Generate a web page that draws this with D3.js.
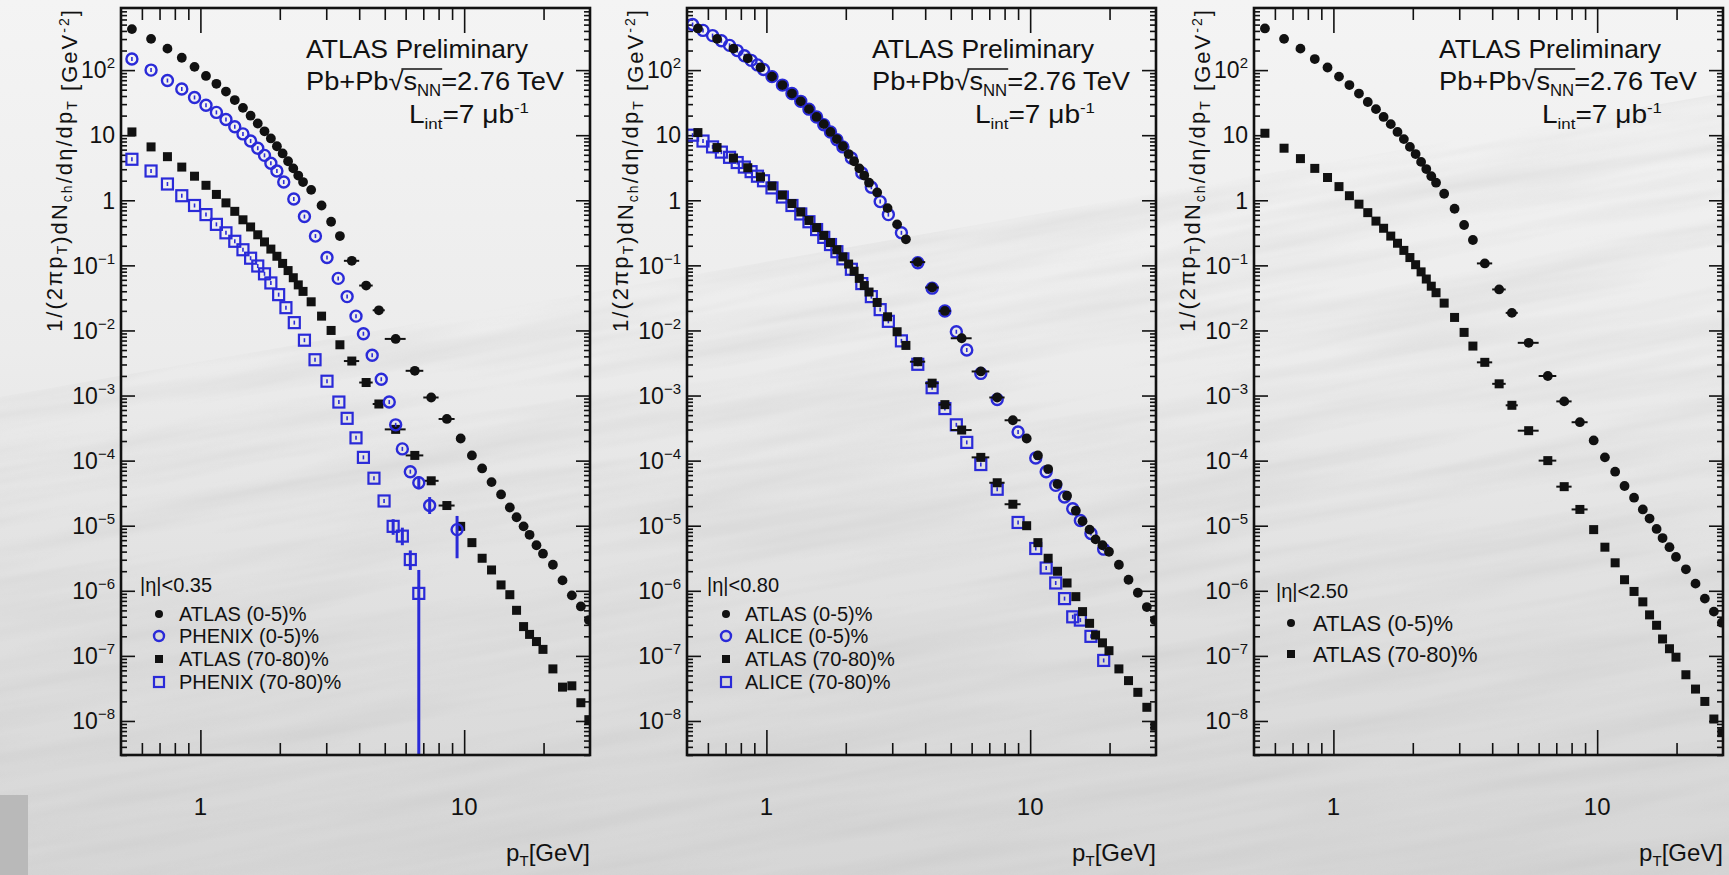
<!DOCTYPE html>
<html>
<head>
<meta charset="utf-8">
<script src="https://cdn.jsdelivr.net/npm/d3@7"></script>
<style>
  body { margin: 0; background: #dcdcdc; }
  svg { display: block; font-family: "Liberation Sans", Arial, Helvetica, sans-serif; }
</style>
</head>
<body>
<svg id="chart"></svg>
<script>
// pT bin centres (GeV), ATLAS
const ptAtlas = [0.55,0.65,0.75,0.85,0.95,1.05,1.15,1.25,1.35,1.45,1.55,1.65,1.75,1.85,1.95,2.05,2.15,2.25,2.35,2.45,
  2.63,2.88,3.13,3.38,3.75,4.25,4.75,5.5,6.5,7.5,8.6,
  9.7,10.7,11.7,12.7,13.8,14.9,15.8,16.8,17.7,18.8,19.9,21.7,23.6,25.6,27.7,29.7];
// wide ATLAS bins that show a horizontal bar [pT, lo, hi]
const atlasWideBins = [[3.75,3.5,4.0],[4.25,4.0,4.5],[4.75,4.5,5.0],[5.5,5.0,6.0],[6.5,6.0,7.0],[7.5,7.0,8.0],[8.6,8.0,9.2]];

const p1Atlas05 = [2.63,2.48,2.33,2.19,2.05,1.91,1.79,1.67,1.54,1.42,1.30,1.18,1.06,0.95,0.83,0.72,0.60,0.49,0.38,0.28,
  0.16,-0.08,-0.33,-0.55,-0.93,-1.31,-1.69,-2.13,-2.62,-3.03,-3.36,
  -3.66,-3.92,-4.12,-4.33,-4.52,-4.72,-4.87,-5.01,-5.14,-5.30,-5.43,-5.60,-5.84,-6.07,-6.24,-6.45];
const p1Atlas7080 = [1.05,0.82,0.67,0.51,0.37,0.23,0.09,-0.04,-0.17,-0.30,-0.41,-0.53,-0.64,-0.75,-0.86,-0.97,-1.08,-1.19,-1.30,-1.40,
  -1.56,-1.78,-2.00,-2.22,-2.47,-2.80,-3.13,-3.52,-3.92,-4.31,-4.69,
  -5.01,-5.26,-5.50,-5.68,-5.91,-6.06,-6.30,-6.55,-6.67,-6.78,-6.90,-7.20,-7.48,-7.46,-7.72,-7.98];
const p2Atlas05 = [2.64,2.48,2.33,2.18,2.04,1.90,1.77,1.64,1.52,1.40,1.28,1.17,1.05,0.94,0.83,0.71,0.60,0.49,0.38,0.27,
  0.12,-0.12,-0.37,-0.60,-0.95,-1.34,-1.70,-2.12,-2.63,-3.03,-3.38,
  -3.66,-3.92,-4.13,-4.36,-4.54,-4.77,-4.93,-5.06,-5.21,-5.30,-5.40,-5.60,-5.83,-6.03,-6.25,-6.45];
const p2Atlas7080 = [1.04,0.81,0.65,0.50,0.36,0.22,0.08,-0.05,-0.18,-0.31,-0.42,-0.54,-0.65,-0.76,-0.87,-0.98,-1.09,-1.20,-1.31,-1.41,
  -1.57,-1.79,-2.02,-2.23,-2.48,-2.81,-3.14,-3.53,-3.95,-4.34,-4.67,
  -5.00,-5.26,-5.50,-5.70,-5.88,-6.09,-6.32,-6.50,-6.68,-6.80,-6.92,-7.20,-7.38,-7.56,-7.79,-8.08];
const p3Atlas05 = [2.64,2.48,2.33,2.17,2.04,1.90,1.77,1.64,1.51,1.40,1.28,1.17,1.05,0.94,0.82,0.71,0.59,0.48,0.37,0.27,
  0.10,-0.13,-0.38,-0.61,-0.97,-1.37,-1.73,-2.19,-2.70,-3.09,-3.41,
  -3.69,-3.95,-4.17,-4.39,-4.57,-4.75,-4.89,-5.05,-5.19,-5.33,-5.48,-5.67,-5.89,-6.12,-6.32,-6.49];
const p3Atlas7080 = [1.03,0.80,0.64,0.49,0.35,0.21,0.07,-0.06,-0.19,-0.32,-0.43,-0.55,-0.66,-0.77,-0.88,-0.99,-1.10,-1.21,-1.32,-1.42,
  -1.58,-1.80,-2.03,-2.24,-2.49,-2.82,-3.15,-3.54,-4.00,-4.40,-4.75,
  -5.06,-5.33,-5.57,-5.83,-6.01,-6.17,-6.37,-6.53,-6.74,-6.89,-7.02,-7.29,-7.51,-7.70,-7.97,-8.18];

// PHENIX (200 GeV), panel 1
const ptPhenix05 = [0.55,0.65,0.75,0.85,0.95,1.05,1.15,1.25,1.35,1.45,1.55,1.65,1.75,1.85,
  1.95,2.07,2.26,2.48,2.73,3.02,3.33,3.6,3.89,4.15,4.48,4.85,5.2,5.5,5.83,6.25,6.73,7.4,9.4];
const phenix05 = [2.17,2.00,1.84,1.71,1.58,1.46,1.35,1.24,1.13,1.02,0.91,0.80,0.69,0.57,
  0.45,0.28,0.02,-0.25,-0.55,-0.88,-1.20,-1.48,-1.78,-2.05,-2.38,-2.75,-3.10,-3.45,-3.82,-4.17,-4.34,-4.69,-5.06];
const ptPhenix7080 = [0.55,0.65,0.75,0.85,0.95,1.05,1.15,1.25,1.35,1.45,1.55,1.65,1.75,1.85,
  1.98,2.11,2.27,2.48,2.72,3.02,3.35,3.6,3.89,4.15,4.55,4.97,5.38,5.83,6.25,6.73];
const phenix7080 = [0.63,0.45,0.25,0.07,-0.08,-0.22,-0.37,-0.50,-0.63,-0.76,-0.89,-1.01,-1.13,-1.27,
  -1.45,-1.65,-1.88,-2.15,-2.45,-2.78,-3.10,-3.35,-3.65,-3.95,-4.27,-4.62,-5.01,-5.16,-5.52,-6.04];
// vertical error bars [pT, lo, hi] (log10)
const phenix05Err = [[6.73,-4.44,-4.24],[7.4,-4.82,-4.56],[9.4,-5.50,-4.85]];
const phenix7080Err = [[5.38,-5.14,-4.90],[5.83,-5.30,-5.03],[6.25,-5.68,-5.38],[6.73,-9.5,-5.68]];

// ALICE, panel 2
const ptAlice = [0.525,0.575,0.625,0.675,0.725,0.775,0.825,0.875,0.925,0.975,
  1.05,1.15,1.25,1.35,1.45,1.55,1.65,1.75,1.85,1.95,
  2.1,2.3,2.5,2.7,2.9,3.25,3.75,4.25,4.75,5.25,5.75,6.5,7.5,9,
  10.5,11.5,12.5,13.5,14.5,15.5,17,19];
const alice05 = [2.70,2.61,2.53,2.45,2.38,2.30,2.22,2.15,2.08,2.01,
  1.90,1.77,1.64,1.52,1.40,1.28,1.16,1.05,0.93,0.82,
  0.65,0.42,0.20,-0.02,-0.22,-0.50,-0.96,-1.35,-1.70,-2.02,-2.30,-2.66,-3.06,-3.56,
  -3.96,-4.17,-4.38,-4.56,-4.74,-4.92,-5.12,-5.36];
const alice7080 = [1.00,0.91,0.82,0.74,0.66,0.58,0.51,0.44,0.37,0.30,
  0.19,0.05,-0.08,-0.21,-0.33,-0.45,-0.57,-0.68,-0.79,-0.90,
  -1.06,-1.28,-1.48,-1.68,-1.86,-2.16,-2.52,-2.88,-3.20,-3.45,-3.72,-4.06,-4.44,-4.95,
  -5.35,-5.65,-5.88,-6.12,-6.40,-6.45,-6.70,-7.07];

// axis ticks
const xMajor = [1, 10];
const xMinor = [0.6,0.7,0.8,0.9,2,3,4,5,6,7,8,9,20];
const yExponents = [2,1,0,-1,-2,-3,-4,-5,-6,-7,-8];

const W = 1729, H = 875;
const panelLeft = [121, 687, 1254];
const panelW = 469, panelTop = 8, panelH = 747;
const BLUE = '#2a2ad8';

const svg = d3.select('#chart').attr('width', W).attr('height', H);
const defs = svg.append('defs');

// ---- slide background ----
const grad = defs.append('linearGradient').attr('id', 'bg').attr('x1', 0).attr('y1', 0).attr('x2', 0).attr('y2', 1);
grad.append('stop').attr('offset', '0').attr('stop-color', '#f4f4f4');
grad.append('stop').attr('offset', '0.4').attr('stop-color', '#ececec');
grad.append('stop').attr('offset', '0.75').attr('stop-color', '#dedede');
grad.append('stop').attr('offset', '1').attr('stop-color', '#d6d6d6');
svg.append('rect').attr('width', W).attr('height', H).attr('fill', 'url(#bg)');

const noise = defs.append('filter').attr('id', 'streaks').attr('x', 0).attr('y', 0).attr('width', 1).attr('height', 1);
noise.append('feTurbulence').attr('type', 'fractalNoise').attr('baseFrequency', '0.003 0.045').attr('numOctaves', 3).attr('seed', 4);
noise.append('feColorMatrix').attr('type', 'matrix')
  .attr('values', '0 0 0 0 0.5  0 0 0 0 0.5  0 0 0 0 0.5  -1.4 0 0 0 0.9');
svg.append('rect').attr('x', -300).attr('y', 250).attr('width', 2400).attr('height', 900)
  .attr('transform', 'rotate(-10 864 600)').attr('filter', 'url(#streaks)').attr('opacity', 0.35);
svg.append('rect').attr('x', 0).attr('y', 795).attr('width', 28).attr('height', 80).attr('fill', '#b9b9b9');

const xs = d3.scaleLog().domain([0.5, 30]).range([0, panelW]);
const ys = d3.scaleLog().domain([3e-9, 900]).range([panelH, 0]);
const yv = v => ys(Math.pow(10, v));

function drawPanel(i, series, legend) {
  const g = svg.append('g').attr('transform', `translate(${panelLeft[i]},${panelTop})`);
  const clipId = 'clip' + i;
  defs.append('clipPath').attr('id', clipId).append('rect').attr('width', panelW).attr('height', panelH);

  // ticks, ROOT style: inside on all four sides
  const tickStyle = a => a.call(s => s.select('.domain').remove())
    .call(s => s.selectAll('line').attr('stroke', '#111').attr('stroke-width', 1.6));
  g.append('g').attr('transform', `translate(0,${panelH})`).call(d3.axisBottom(xs).tickValues(xMajor).tickSize(-25).tickFormat('')).call(tickStyle);
  g.append('g').attr('transform', `translate(0,${panelH})`).call(d3.axisBottom(xs).tickValues(xMinor).tickSize(-12).tickFormat('')).call(tickStyle);
  g.append('g').call(d3.axisTop(xs).tickValues(xMajor).tickSize(-25).tickFormat('')).call(tickStyle);
  g.append('g').call(d3.axisTop(xs).tickValues(xMinor).tickSize(-12).tickFormat('')).call(tickStyle);

  const yMaj = yExponents.map(e => Math.pow(10, e));
  const yMin = [];
  for (let e = -9; e <= 2; e++) for (let k = 2; k <= 9; k++) {
    const v = k * Math.pow(10, e);
    if (v > 3e-9 && v < 900) yMin.push(v);
  }
  g.append('g').call(d3.axisLeft(ys).tickValues(yMaj).tickSize(-14).tickFormat('')).call(tickStyle);
  g.append('g').call(d3.axisLeft(ys).tickValues(yMin).tickSize(-6).tickFormat('')).call(tickStyle);
  g.append('g').attr('transform', `translate(${panelW},0)`).call(d3.axisRight(ys).tickValues(yMaj).tickSize(-14).tickFormat('')).call(tickStyle);
  g.append('g').attr('transform', `translate(${panelW},0)`).call(d3.axisRight(ys).tickValues(yMin).tickSize(-6).tickFormat('')).call(tickStyle);

  // y tick labels
  yExponents.forEach(e => {
    const t = g.append('text').attr('x', -6).attr('y', yv(e)).attr('dy', '0.36em')
      .attr('text-anchor', 'end').style('font-size', '23px').attr('fill', '#111');
    if (e === 0) t.text('1');
    else if (e === 1) t.text('10');
    else {
      t.append('tspan').text('10');
      t.append('tspan').attr('dy', -10).style('font-size', '15px').text(e < 0 ? '\u2212' + (-e) : String(e));
    }
  });
  // x tick labels
  xMajor.forEach(v => {
    g.append('text').attr('x', xs(v)).attr('y', 807).attr('text-anchor', 'middle')
      .style('font-size', '24px').attr('fill', '#111').text(v);
  });
  // x title
  const xt = g.append('text').attr('x', panelW).attr('y', 853).attr('text-anchor', 'end')
    .style('font-size', '24px').attr('fill', '#111');
  xt.append('tspan').text('p');
  xt.append('tspan').attr('dy', 5).style('font-size', '15px').text('T');
  xt.append('tspan').attr('dy', -5).text('[GeV]');

  // y title
  const yt = g.append('text').attr('transform', 'translate(-59,0) rotate(-90)')
    .attr('x', -2).attr('text-anchor', 'end').style('font-size', '22px').attr('fill', '#111')
    .attr('textLength', 322).attr('lengthAdjust', 'spacing');
  const sub = (s) => { yt.append('tspan').attr('dy', 5).style('font-size', '14px').text(s); yt.append('tspan').attr('dy', -5).text(''); };
  yt.append('tspan').text('1/(2\u03c0p'); sub('T');
  yt.append('tspan').text(')dN'); sub('ch');
  yt.append('tspan').text('/d\u03b7/dp'); sub('T');
  yt.append('tspan').text(' [GeV');
  yt.append('tspan').attr('dy', -8).style('font-size', '14px').text('-2');
  yt.append('tspan').attr('dy', 8).text(']');

  // data
  const plot = g.append('g').attr('clip-path', `url(#${clipId})`);
  series.forEach(s => drawSeries(plot, s));

  // frame
  g.append('rect').attr('width', panelW).attr('height', panelH).attr('fill', 'none')
    .attr('stroke', '#111').attr('stroke-width', 2.6);

  // ATLAS labels
  g.append('text').attr('x', 185).attr('y', 50).style('font-size', '26px').attr('fill', '#111')
    .attr('textLength', 222).attr('lengthAdjust', 'spacingAndGlyphs').text('ATLAS Preliminary');
  const pb = g.append('text').attr('x', 185).attr('y', 82).style('font-size', '26px').attr('fill', '#111')
    .attr('textLength', 258).attr('lengthAdjust', 'spacingAndGlyphs');
  pb.append('tspan').text('Pb+Pb\u221a');
  pb.append('tspan').text('s');
  pb.append('tspan').attr('dy', 6).style('font-size', '16px').text('NN');
  pb.append('tspan').attr('dy', -6).text('=2.76 TeV');
  const n = pb.node();
  const s0 = n.getStartPositionOfChar(6).x, s1 = n.getEndPositionOfChar(8).x;
  g.append('line').attr('x1', s0 - 2).attr('x2', s1 + 1).attr('y1', 61).attr('y2', 61)
    .attr('stroke', '#111').attr('stroke-width', 1.3);
  const li = g.append('text').attr('x', 288).attr('y', 115).style('font-size', '25px').attr('fill', '#111')
    .attr('textLength', 120).attr('lengthAdjust', 'spacingAndGlyphs');
  li.append('tspan').text('L');
  li.append('tspan').attr('dy', 6).style('font-size', '15px').text('int');
  li.append('tspan').attr('dy', -6).text('=7 \u03bcb');
  li.append('tspan').attr('dy', -10).style('font-size', '15px').text('-1');

  // legend
  g.append('text').attr('x', legend.x).attr('y', legend.headY).style('font-size', '20px').attr('fill', '#111')
    .text(legend.head);
  legend.rows.forEach((r, k) => {
    const cy = legend.rowY[k];
    drawMarker(g, legend.markX, cy, r.type, true);
    g.append('text').attr('x', legend.textX).attr('y', cy).attr('dy', '0.35em')
      .style('font-size', legend.size).attr('fill', '#111').text(r.label);
  });
}

function drawMarker(g, x, y, type, legendMode) {
  if (type === 'dot') {
    g.append('circle').attr('cx', x).attr('cy', y).attr('r', legendMode ? 4 : 4.9).attr('fill', '#111');
  } else if (type === 'square') {
    const h = legendMode ? 4 : 4.5;
    g.append('rect').attr('x', x - h).attr('y', y - h).attr('width', 2 * h).attr('height', 2 * h).attr('fill', '#111');
  } else if (type === 'ocircle') {
    g.append('circle').attr('cx', x).attr('cy', y).attr('r', legendMode ? 5 : 5.5)
      .attr('fill', 'none').attr('stroke', BLUE).attr('stroke-width', 2.4);
    if (!legendMode) g.append('line').attr('x1', x).attr('x2', x).attr('y1', y - 2).attr('y2', y + 2).attr('stroke', BLUE).attr('stroke-width', 1.6);
  } else if (type === 'osquare') {
    const h = legendMode ? 5 : 5.5;
    g.append('rect').attr('x', x - h).attr('y', y - h).attr('width', 2 * h).attr('height', 2 * h)
      .attr('fill', 'none').attr('stroke', BLUE).attr('stroke-width', 2.2);
    if (!legendMode) g.append('line').attr('x1', x).attr('x2', x).attr('y1', y - 2).attr('y2', y + 2).attr('stroke', BLUE).attr('stroke-width', 1.6);
  }
}

function drawSeries(g, s) {
  const color = (s.type === 'dot' || s.type === 'square') ? '#111' : BLUE;
  (s.bins || []).forEach(b => {
    const i = s.pt.indexOf(b[0]);
    if (i < 0) return;
    g.append('line').attr('x1', xs(b[1])).attr('x2', xs(b[2])).attr('y1', yv(s.val[i])).attr('y2', yv(s.val[i]))
      .attr('stroke', color).attr('stroke-width', 2);
  });
  (s.err || []).forEach(b => {
    g.append('line').attr('x1', xs(b[0])).attr('x2', xs(b[0])).attr('y1', yv(b[1])).attr('y2', yv(b[2]))
      .attr('stroke', color).attr('stroke-width', 3);
  });
  s.pt.forEach((p, i) => drawMarker(g, xs(p), yv(s.val[i]), s.type, false));
}

drawPanel(0, [
  { pt: ptAtlas, val: p1Atlas05, type: 'dot', bins: atlasWideBins },
  { pt: ptAtlas, val: p1Atlas7080, type: 'square', bins: atlasWideBins },
  { pt: ptPhenix7080, val: phenix7080, type: 'osquare', err: phenix7080Err },
  { pt: ptPhenix05, val: phenix05, type: 'ocircle', err: phenix05Err }
], {
  x: 19, textX: 58, markX: 38, head: '|\u03b7|<0.35', headY: 584, size: '20px',
  rowY: [606, 628, 651, 674],
  rows: [{ type: 'dot', label: 'ATLAS  (0-5)%' }, { type: 'ocircle', label: 'PHENIX (0-5)%' },
         { type: 'square', label: 'ATLAS  (70-80)%' }, { type: 'osquare', label: 'PHENIX (70-80)%' }]
});

drawPanel(1, [
  { pt: ptAlice, val: alice7080, type: 'osquare' },
  { pt: ptAlice, val: alice05, type: 'ocircle' },
  { pt: ptAtlas, val: p2Atlas05, type: 'dot', bins: atlasWideBins },
  { pt: ptAtlas, val: p2Atlas7080, type: 'square', bins: atlasWideBins }
], {
  x: 20, textX: 58, markX: 39, head: '|\u03b7|<0.80', headY: 584, size: '20px',
  rowY: [606, 628, 651, 674],
  rows: [{ type: 'dot', label: 'ATLAS (0-5)%' }, { type: 'ocircle', label: 'ALICE (0-5)%' },
         { type: 'square', label: 'ATLAS (70-80)%' }, { type: 'osquare', label: 'ALICE (70-80)%' }]
});

drawPanel(2, [
  { pt: ptAtlas, val: p3Atlas05, type: 'dot', bins: atlasWideBins },
  { pt: ptAtlas, val: p3Atlas7080, type: 'square', bins: atlasWideBins }
], {
  x: 22, textX: 59, markX: 37, head: '|\u03b7|<2.50', headY: 590, size: '22px',
  rowY: [615, 646],
  rows: [{ type: 'dot', label: 'ATLAS (0-5)%' }, { type: 'square', label: 'ATLAS (70-80)%' }]
});
</script>
</body>
</html>
